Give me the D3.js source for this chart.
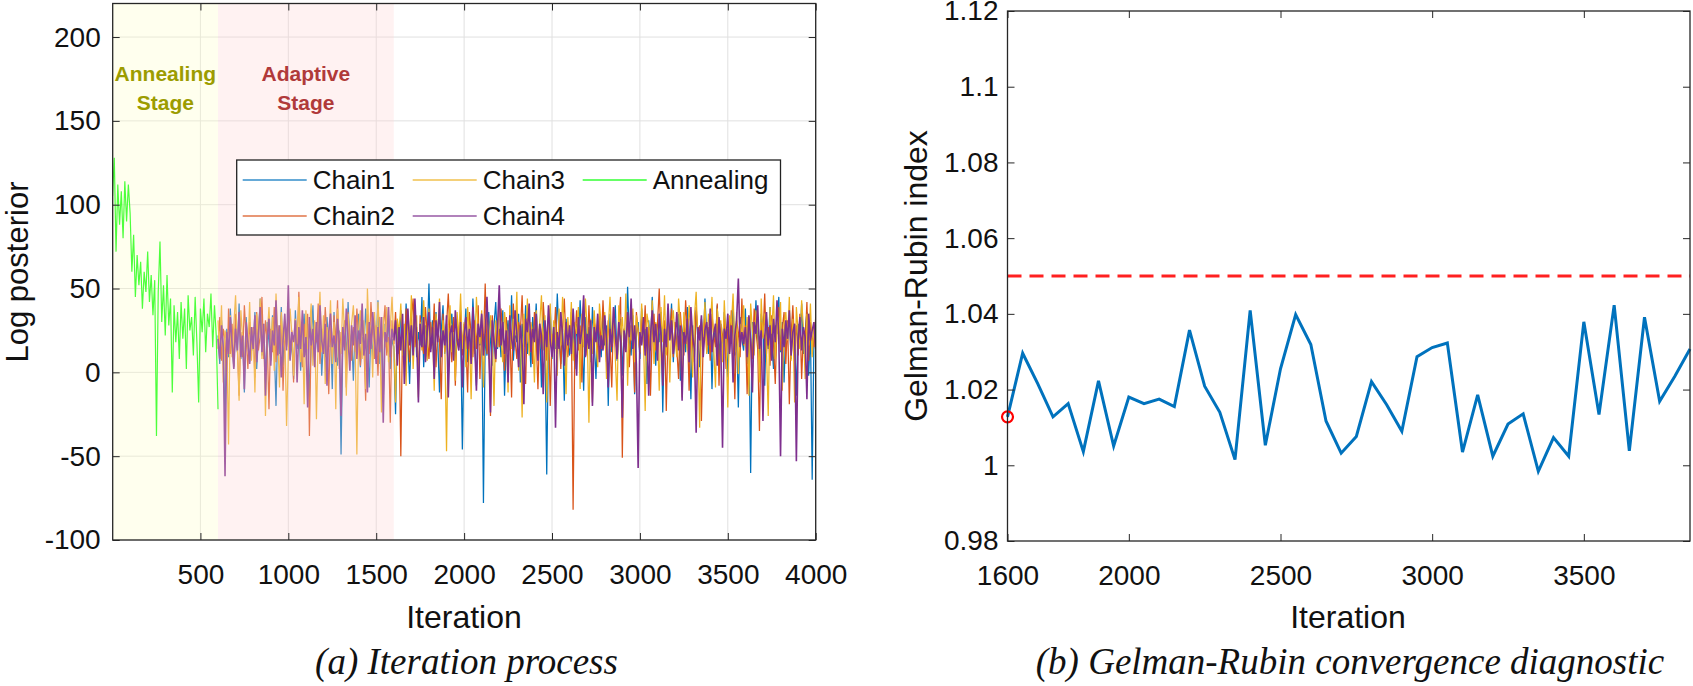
<!DOCTYPE html>
<html>
<head>
<meta charset="utf-8">
<script src="https://cdn.jsdelivr.net/npm/d3@7"></script>
<style>
  html, body { margin: 0; padding: 0; background: #fff; }
  svg { display: block; }
</style>
</head>
<body>
<svg id="chart" width="1693" height="686"></svg>
<script>
// ---------------- DATA ----------------
// (a) Iteration process: traces sampled every 10 iterations
const annealingStart = 0, annealingStep = 10;
const annealing = [105,128,72,112,88,108,80,114,90,112,95,60,82,45,70,52,66,38,60,48,72,42,58,34,55,-38,48,78,30,52,22,58,28,44,-12,40,18,36,8,42,20,38,2,46,25,33,10,45,18,-18,38,24,44,12,35,27,47,15,40,22,-22];

const chainStart = 600, chainStep = 10;
const chain1 = [
22,5,31,14,-28,26,9,38,17,3,29,12,41,8,24,-12,33,16,6,27,
13,36,2,21,44,10,25,-6,30,18,7,34,15,-20,28,11,39,4,23,16,
32,8,19,-4,37,14,26,1,22,35,10,29,-15,17,40,6,24,13,31,-2,
20,9,33,15,27,-10,36,12,4,25,-49,18,30,7,42,16,23,-5,28,11,
35,3,21,14,38,19,-9,26,8,31,17,43,5,24,-18,29,12,34,2,20,
15,-25,30,11,37,22,6,41,18,-7,27,13,39,9,24,16,45,3,28,20,
53,14,31,8,36,19,-12,25,40,11,29,-3,22,35,17,7,32,15,27,-46,
18,38,6,25,12,44,21,-8,30,16,34,-78,23,10,36,19,4,28,42,14,
26,9,37,-14,20,31,13,46,7,24,18,35,-6,29,15,40,11,22,3,33,
19,41,12,27,-9,34,16,-61,23,38,8,30,14,47,21,5,26,-17,32,17,
10,36,24,2,29,15,43,20,-11,33,13,27,6,39,18,-4,31,22,9,37,
16,28,-20,35,12,25,40,7,21,32,-2,26,14,51,19,10,34,-13,23,30,
8,38,17,26,-7,31,13,45,22,4,29,18,36,-24,25,11,33,20,41,6,
27,15,35,-5,21,30,12,39,24,-16,28,9,37,19,3,32,16,44,23,11,
34,-10,26,18,40,7,29,14,36,22,-3,31,17,42,10,25,-21,33,20,13,
38,5,24,-60,30,16,43,21,9,35,27,-8,32,14,39,18,2,28,23,45,
12,30,-6,26,19,37,8,33,22,-14,29,15,41,11,24,36,-2,27,-64,20,
28];
const chain2 = [
14,33,7,26,19,-8,38,11,29,4,35,17,-14,24,9,40,21,2,30,16,
27,-3,36,13,22,45,8,31,18,-22,26,12,39,6,28,19,34,-11,23,15,
37,10,25,-6,32,16,48,20,3,29,14,35,-38,22,11,30,18,41,5,26,
13,39,21,-13,28,9,34,17,43,2,24,15,31,-9,36,19,7,27,12,38,
20,4,30,16,-17,35,11,42,23,8,28,-2,33,14,26,40,10,21,-30,31,
17,36,9,24,-50,29,13,38,20,6,32,44,15,27,-5,34,18,11,39,22,
8,30,16,41,3,25,19,-16,35,12,28,47,21,6,33,-8,26,15,37,10,
29,18,-12,36,23,9,31,14,40,-4,27,17,53,11,24,-26,34,20,6,30,
15,38,22,1,33,12,27,-15,41,19,8,30,24,46,13,-7,35,18,28,5,
36,21,-10,29,14,42,25,7,33,-20,23,16,39,11,31,2,26,44,17,9,
24,32,-82,19,37,13,28,-6,35,22,10,40,16,-18,30,25,8,34,14,43,
20,6,31,17,-9,38,23,12,29,45,-51,26,15,34,3,28,19,-12,36,24,
11,33,18,40,7,27,-14,22,35,13,29,50,16,4,31,-23,25,20,38,9,
30,14,-4,36,21,10,43,26,-11,32,17,6,39,23,28,-29,19,34,12,27,
7,35,22,15,41,-8,29,18,33,2,26,12,37,20,-16,31,24,9,44,16,
28,-13,33,19,8,38,25,14,-35,30,21,47,11,27,4,34,17,-7,29,39,
13,26,36,5,31,-19,22,40,16,28,10,35,-4,24,18,42,7,30,21,15,
33];
const chain3 = [
31,12,40,-6,25,18,-43,34,9,28,46,15,-17,37,21,3,30,14,42,7,
26,-12,35,19,44,8,29,-26,22,39,13,33,1,47,20,-9,36,16,27,-32,
10,38,23,-2,32,17,45,6,28,-19,37,14,26,41,4,31,-28,22,48,12,
34,-7,27,16,43,5,30,-22,38,20,11,44,24,-14,35,9,29,40,18,-49,
25,37,8,31,-10,50,19,28,-3,36,13,42,22,-24,33,15,39,6,27,45,
17,-18,32,24,41,10,29,-8,37,19,46,2,26,34,-15,30,13,43,21,7,
38,16,27,-11,35,22,44,9,31,18,-47,28,40,12,24,-5,36,20,47,14,
30,3,39,23,-16,33,11,45,26,17,37,-9,29,42,8,34,21,-20,31,15,
43,19,6,36,25,-12,40,14,32,22,48,1,28,-27,35,17,44,10,30,23,
-6,37,20,29,46,13,34,-18,27,41,9,31,21,-2,38,16,45,24,-13,33,
18,42,7,30,23,39,-10,35,15,44,26,-30,32,11,37,20,3,41,28,14,
36,-4,27,45,17,31,9,-17,40,22,33,13,47,-8,29,19,38,6,34,25,
12,41,21,-23,35,28,16,43,5,30,24,-11,39,18,46,10,32,-6,27,37,
20,9,44,29,-15,36,23,13,40,26,-3,33,48,17,-33,30,21,42,11,35,
27,45,14,-9,38,24,31,6,43,19,-21,34,28,47,12,36,-1,29,22,40,
15,33,-14,41,25,10,37,30,-6,44,20,35,13,-26,39,23,46,8,31,17,
42,-11,28,36,19,45,7,32,-18,39,24,14,43,27,-4,35,16,41,9,30,
22];
const chain4 = [
20,8,28,15,-62,24,11,33,17,2,26,13,36,9,22,-10,30,18,5,27,
14,34,6,23,39,12,29,-14,21,32,4,25,16,43,10,28,-3,19,35,13,
52,7,24,18,31,-6,27,14,37,9,21,-21,33,16,26,3,30,12,40,19,
11,29,-8,24,35,15,22,6,32,18,-26,27,13,38,20,1,28,16,34,8,
25,17,41,10,23,-12,30,14,36,21,5,27,12,33,-30,24,18,39,9,26,
19,31,4,27,13,35,-7,22,38,16,28,10,44,20,-18,29,15,33,6,24,
36,12,27,-4,31,18,42,9,25,16,34,-15,23,28,7,37,19,13,30,-9,
22,33,14,26,5,39,17,-11,29,21,35,10,24,45,15,-24,31,19,8,27,
52,16,30,11,25,-6,34,20,13,37,23,3,28,17,-19,32,24,41,12,26,
18,35,7,29,22,-13,31,15,40,19,9,27,-33,24,14,36,21,4,30,16,
28,11,38,20,-2,33,17,25,46,9,23,14,31,-20,27,18,35,6,22,13,
34,19,-9,26,15,39,23,8,30,18,-27,25,12,36,21,44,14,28,5,-57,
24,16,33,10,27,-14,21,37,18,29,7,35,22,-8,26,15,41,19,31,11,
20,36,13,28,-17,24,17,32,6,39,22,14,-36,27,19,34,9,25,30,16,
38,12,23,29,4,33,18,-45,26,20,35,11,28,-6,22,31,56,15,24,17,
27,9,34,19,-12,30,23,40,14,25,-29,21,36,16,28,7,32,18,43,22,
-50,26,15,31,20,37,10,24,29,-53,18,33,13,27,21,-16,35,19,25,30,
14];
const chainNames = ["Chain1","Chain2","Chain3","Chain4"];
const chainColors = ["#0072BD","#D95319","#EDB120","#7E2F8E"];
const annealingColor = "#00FF00";
const stages = [
  {name: ["Annealing","Stage"], from: 1, to: 600, fill: "rgb(255,255,200)", text: "#9C9C00"},
  {name: ["Adaptive","Stage"], from: 600, to: 1600, fill: "rgb(255,212,212)", text: "#B03A3A"}
];
const leftXTicks = [500,1000,1500,2000,2500,3000,3500,4000];
const leftYTicks = [-100,-50,0,50,100,150,200];

// (b) Gelman-Rubin diagnostic, every 50 iterations from 1600
const grStart = 1600, grStep = 50;
const grValues = [1.0128,1.0296,1.0215,1.0128,1.0163,1.0036,1.0223,1.0051,1.0180,1.0163,
  1.0175,1.0155,1.0357,1.0209,1.0140,1.0015,1.0409,1.0053,1.0255,1.0398,
  1.0319,1.0117,1.0032,1.0076,1.0221,1.0160,1.0090,1.0287,1.0311,1.0323,
  1.0035,1.0186,1.0024,1.0109,1.0136,0.9984,1.0073,1.0024,1.0379,1.0134,
  1.0423,1.0038,1.0391,1.0169,1.0235,1.0307];
const grThreshold = 1.05;
const rightXTicks = [1600,2000,2500,3000,3500];
const rightYTicks = [0.98,1.00,1.02,1.04,1.06,1.08,1.10,1.12];

// ---------------- DRAW ----------------
const svg = d3.select("#chart");
const SANS = "'Liberation Sans', Arial, Helvetica, sans-serif";
const SERIF = "'Liberation Serif', 'Times New Roman', serif";
const AX = "#262626";

function gridLines(g, x, y, xt, yt) {
  const [x0, x1] = x.range(), [y1, y0] = y.range();
  g.append("g").selectAll("line").data(xt).join("line")
    .attr("x1", d => x(d)).attr("x2", d => x(d)).attr("y1", y0).attr("y2", y1)
    .attr("stroke", "#e0e0e0").attr("stroke-width", 1);
  g.append("g").selectAll("line").data(yt).join("line")
    .attr("x1", x0).attr("x2", x1).attr("y1", d => y(d)).attr("y2", d => y(d))
    .attr("stroke", "#e0e0e0").attr("stroke-width", 1);
}
function drawFrame(g, x, y, xt, yt, fmtY, xPad, yPad) {
  const [x0, x1] = x.range(), [y1, y0] = y.range();
  const style = sel => {
    sel.select(".domain").remove();
    sel.selectAll(".tick line").attr("stroke", AX).attr("stroke-width", 1);
    sel.selectAll(".tick text").attr("fill", "#111").style("font-family", SANS).style("font-size", "28px");
  };
  g.append("g").attr("transform", `translate(0,${y1})`)
    .call(d3.axisBottom(x).tickValues(xt).tickSize(-7).tickPadding(xPad).tickFormat(d => String(d))).call(style);
  g.append("g").attr("transform", `translate(0,${y0})`)
    .call(d3.axisTop(x).tickValues(xt).tickSize(-7).tickFormat("")).call(style);
  g.append("g").attr("transform", `translate(${x0},0)`)
    .call(d3.axisLeft(y).tickValues(yt).tickSize(-7).tickPadding(yPad).tickFormat(fmtY)).call(style);
  g.append("g").attr("transform", `translate(${x1},0)`)
    .call(d3.axisRight(y).tickValues(yt).tickSize(-7).tickFormat("")).call(style);
  g.append("rect").attr("x", x0).attr("y", y0).attr("width", x1 - x0).attr("height", y1 - y0)
    .attr("fill", "none").attr("stroke", AX).attr("stroke-width", 1.3);
}

// ----- Panel (a) -----
const xL = d3.scaleLinear().domain([1, 4000]).range([112.7, 815.7]);
const yL = d3.scaleLinear().domain([-100, 220]).range([540, 3.5]);
const gA = svg.append("g");
svg.append("defs").append("clipPath").attr("id", "clipA")
  .append("rect").attr("x", 112.7).attr("y", 3.5).attr("width", 703).attr("height", 536.5);

gridLines(gA, xL, yL, leftXTicks, leftYTicks);

const plotA = gA.append("g").attr("clip-path", "url(#clipA)");
const lineA = d3.line().x(d => xL(d[0])).y(d => yL(d[1]));
plotA.append("path")
  .datum(annealing.map((v, i) => [annealingStart + i * annealingStep, v]))
  .attr("d", lineA).attr("fill", "none").attr("stroke", annealingColor).attr("stroke-width", 1.2);
[chain1, chain2, chain3, chain4].forEach((c, k) => {
  plotA.append("path")
    .datum(c.map((v, i) => [chainStart + i * chainStep, v]))
    .attr("d", lineA).attr("fill", "none").attr("stroke", chainColors[k])
    .attr("stroke-width", k === 3 ? 1.6 : 1.25);
});
// stage shading (semi-transparent, on top of traces)
plotA.selectAll("rect.stage").data(stages).join("rect").attr("class", "stage")
  .attr("x", d => xL(Math.max(1, d.from))).attr("width", d => xL(d.to) - xL(Math.max(1, d.from)))
  .attr("y", yL(220)).attr("height", yL(-100) - yL(220))
  .attr("fill", d => d.fill).attr("fill-opacity", 0.3);
stages.forEach(s => {
  const cx = (xL(Math.max(1, s.from)) + xL(s.to)) / 2;
  const t = gA.append("text").attr("x", cx).attr("text-anchor", "middle")
    .style("font-family", SANS).style("font-weight", "bold").style("font-size", "21px").attr("fill", s.text);
  t.append("tspan").attr("x", cx).attr("y", 81).text(s.name[0]);
  t.append("tspan").attr("x", cx).attr("y", 110).text(s.name[1]);
});

drawFrame(gA, xL, yL, leftXTicks, leftYTicks, d => String(d), 24, 12);

gA.append("text").attr("x", 464).attr("y", 628).attr("text-anchor", "middle")
  .style("font-family", SANS).style("font-size", "32px").attr("fill", "#111").text("Iteration");
gA.append("text").attr("transform", "translate(28,272) rotate(-90)").attr("text-anchor", "middle")
  .style("font-family", SANS).style("font-size", "31px").attr("fill", "#111").text("Log posterior");

// legend
const legNames = [...chainNames, "Annealing"];
const legColors = [...chainColors, annealingColor];
const leg = gA.append("g");
leg.append("rect").attr("x", 236.7).attr("y", 160).attr("width", 543.8).attr("height", 75)
  .attr("fill", "#fff").attr("stroke", "#222").attr("stroke-width", 1.3);
legNames.forEach((n, i) => {
  const col = Math.floor(i / 2), row = i % 2;
  const lx = 242.7 + col * 170, ly = 180 + row * 36;
  leg.append("line").attr("x1", lx).attr("x2", lx + 64).attr("y1", ly).attr("y2", ly)
    .attr("stroke", legColors[i]).attr("stroke-width", 1.5).attr("stroke-opacity", 0.8);
  leg.append("text").attr("x", lx + 70).attr("y", ly).attr("dy", "0.36em")
    .style("font-family", SANS).style("font-size", "26px").attr("fill", "#111").text(n);
});

svg.append("text").attr("x", 466.5).attr("y", 674).attr("text-anchor", "middle")
  .style("font-family", SERIF).style("font-style", "italic").style("font-size", "37px").attr("fill", "#111")
  .text("(a) Iteration process");

// ----- Panel (b) -----
const xR = d3.scaleLinear().domain([1600, 3850]).range([1007.5, 1690]);
const yR = d3.scaleLinear().domain([0.98, 1.12]).range([541, 11]);
const gB = svg.append("g");
gB.append("line").attr("x1", xR(1600)).attr("x2", xR(3850))
  .attr("y1", yR(grThreshold)).attr("y2", yR(grThreshold))
  .attr("stroke", "#FF2020").attr("stroke-width", 3).attr("stroke-dasharray", "14,8");
gB.append("path")
  .datum(grValues.map((v, i) => [grStart + i * grStep, v]))
  .attr("d", d3.line().x(d => xR(d[0])).y(d => yR(d[1])))
  .attr("fill", "none").attr("stroke", "#0072BD").attr("stroke-width", 3).attr("stroke-linejoin", "miter");
gB.append("circle").attr("cx", xR(grStart)).attr("cy", yR(grValues[0])).attr("r", 5.5)
  .attr("fill", "none").attr("stroke", "#FF0000").attr("stroke-width", 2.2);

const fmtR = d => { const s = d3.format(".2f")(d); return s.replace(/\.?0+$/, ""); };
drawFrame(gB, xR, yR, rightXTicks, rightYTicks, fmtR, 24, 9);

gB.append("text").attr("x", 1348).attr("y", 628).attr("text-anchor", "middle")
  .style("font-family", SANS).style("font-size", "32px").attr("fill", "#111").text("Iteration");
gB.append("text").attr("transform", "translate(927,276) rotate(-90)").attr("text-anchor", "middle")
  .style("font-family", SANS).style("font-size", "32px").attr("fill", "#111").text("Gelman-Rubin index");

svg.append("text").attr("x", 1350).attr("y", 674).attr("text-anchor", "middle")
  .style("font-family", SERIF).style("font-style", "italic").style("font-size", "37px").attr("fill", "#111")
  .text("(b) Gelman-Rubin convergence diagnostic");
</script>
</body>
</html>
